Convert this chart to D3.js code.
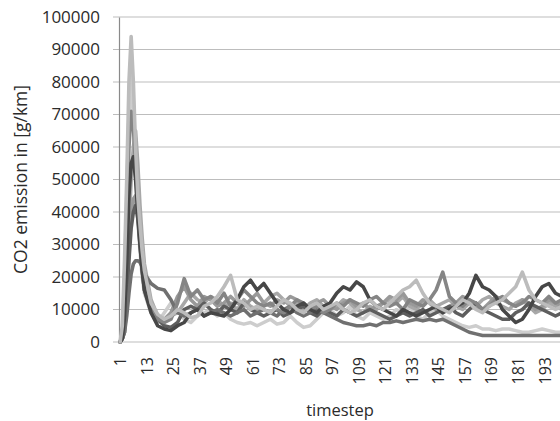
<!DOCTYPE html>
<html>
<head>
<meta charset="utf-8">
<script src="https://cdn.jsdelivr.net/npm/d3@7"></script>
<style>
  html, body { margin: 0; padding: 0; background: #fff; }
  svg { display: block; font-family: "Open Sans", sans-serif; }
</style>
</head>
<body>
<svg id="chart" width="560" height="421"></svg>
<script>
// Sampled timesteps (dense around the start-up peak, every third step afterwards)
const timesteps = [1, 2, 3, 4, 5, 6, 7, 8, 9, 10, 11, 12,
  15, 18, 21, 24, 27, 30, 33, 36, 39,
  42, 45, 48, 51, 54, 57, 60, 63, 66,
  69, 72, 75, 78, 81, 84, 87, 90, 93,
  96, 99, 102, 105, 108, 111, 114, 117, 120,
  123, 126, 129, 132, 135, 138, 141, 144, 147,
  150, 153, 156, 159, 162, 165, 168, 171, 174,
  177, 180, 183, 186, 189, 192, 195, 198, 201];

// CO2 emission per run, g/km
const runA = [0, 5000, 25000, 50000, 80000, 94000, 80000, 60000, 45000, 36000, 28000, 22000,
  12000, 8500, 7000, 8000, 10000, 9000, 7500, 8000, 11000,
  12000, 14000, 17000, 20500, 13000, 12000, 10000, 11000, 10000,
  9000, 11000, 13000, 12000, 10000, 9000, 11000, 12000, 10000,
  11000, 12000, 10000, 9000, 10000, 12000, 13000, 11000, 10000,
  12000, 14000, 16000, 17000, 19000, 15000, 12000, 11000, 10000,
  9000, 11000, 13000, 12000, 10000, 9000, 11000, 12000, 13000,
  15000, 17000, 21500, 16000, 13000, 12000, 11000, 10000, 11000];

const runB = [0, 2000, 12000, 35000, 60000, 71000, 66000, 55000, 42000, 32000, 24000, 18000,
  11000, 7000, 6000, 7000, 12000, 19500, 14000, 16000, 13000,
  14000, 12000, 15000, 11000, 13000, 16000, 14000, 12000, 11000,
  12000, 10000, 9000, 11000, 13000, 12000, 10000, 11000, 9000,
  10000, 12000, 11000, 13000, 12000, 11000, 13000, 14000, 12000,
  11000, 12000, 10000, 13000, 12000, 11000, 13000, 16000, 21500,
  14000, 12000, 11000, 13000, 12000, 10000, 11000, 13000, 14000,
  12000, 11000, 12000, 14000, 13000, 12000, 14000, 12000, 13000];

const runC = [0, 1000, 8000, 25000, 45000, 55000, 57000, 50000, 40000, 30000, 22000, 16000,
  9000, 5000, 4000, 3500, 5000, 6000, 9000, 10000, 8000,
  9000, 8500, 8000, 10000, 13000, 17000, 19000, 16000, 18000,
  15000, 12000, 10000, 9000, 11000, 12000, 10000, 9000, 11000,
  12000, 15000, 17000, 16000, 18500, 17000, 13000, 11000, 10000,
  9000, 8000, 10000, 9000, 8000, 9000, 10000, 11000, 9000,
  10000, 11000, 12000, 15000, 20500, 17000, 16000, 14000, 10000,
  8000, 6000, 7000, 10000, 14000, 17000, 18000, 15000, 14000];

const runD = [0, 1000, 5000, 15000, 35000, 50000, 60000, 65000, 55000, 42000, 32000, 24000,
  13000, 8000, 6000, 8000, 9000, 12000, 15000, 13000, 12000,
  14000, 13000, 11000, 12000, 10000, 13000, 11000, 10000, 12000,
  14000, 15000, 13000, 11000, 12000, 10000, 12000, 13000, 11000,
  10000, 11000, 13000, 12000, 10000, 9000, 11000, 10000, 12000,
  13000, 12000, 14000, 11000, 10000, 12000, 13000, 11000, 12000,
  13000, 11000, 10000, 12000, 11000, 13000, 14000, 12000, 11000,
  10000, 12000, 13000, 11000, 9000, 10000, 12000, 11000, 10000];

const runE = [0, 1000, 3000, 8000, 15000, 21000, 24000, 25000, 25000, 24500, 23000, 21000,
  18000, 16500, 16000, 13000, 9000, 8000, 9000, 10000, 8000,
  9000, 10000, 9000, 8000, 9000, 10000, 8000, 9000, 10000,
  9000, 8000, 10000, 11000, 9000, 8000, 9000, 10000, 9000,
  8000, 7000, 6000, 5500, 5000, 5000, 5500, 5000, 6000,
  6000, 6500, 6000, 6500, 7000, 6500, 7000, 6500, 7000,
  6000, 5000, 4000, 3000, 2500, 2000, 2000, 2000, 2000,
  2000, 2000, 2000, 2000, 2000, 2000, 2000, 2000, 2000];

const runF = [0, 3000, 20000, 45000, 70000, 82000, 70000, 52000, 38000, 28000, 20000, 15000,
  9000, 6000, 9000, 12000, 10000, 7000, 6000, 8000, 9000,
  10000, 8000, 9000, 7000, 6000, 5500, 6000, 5000, 6000,
  7000, 5500, 6000, 8000, 6000, 4500, 5000, 7000, 9000,
  10000, 8000, 9000, 11000, 8000, 7000, 9000, 8000, 7000,
  8000, 10000, 9000, 11000, 8000, 7000, 9000, 10000, 8000,
  7000, 6000, 5000, 4500, 5000, 4000, 4000, 3500, 4000,
  4000, 3500, 3000, 3000, 3500, 4000, 3500, 3000, 3000];

const runG = [0, 1000, 5000, 15000, 28000, 38000, 44000, 45000, 40000, 32000, 25000, 19000,
  12000, 8000, 7000, 9000, 14000, 17000, 13000, 11000, 14000,
  13000, 11000, 12000, 14000, 12000, 11000, 13000, 15000, 12000,
  11000, 13000, 12000, 14000, 13000, 11000, 10000, 12000, 13000,
  11000, 10000, 12000, 13000, 11000, 12000, 10000, 11000, 12000,
  14000, 13000, 15000, 12000, 11000, 13000, 12000, 10000, 9000,
  11000, 12000, 14000, 13000, 11000, 10000, 12000, 14000, 13000,
  12000, 11000, 13000, 12000, 10000, 11000, 13000, 12000, 11000];

const runH = [0, 1000, 3000, 12000, 25000, 35000, 40000, 42000, 38000, 30000, 22000, 16000,
  10000, 7000, 5000, 4500, 6000, 10000, 11000, 10000, 12000,
  10000, 9000, 11000, 10000, 9000, 12000, 10000, 9000, 8000,
  9000, 10000, 8000, 9000, 10000, 11000, 9000, 8000, 10000,
  9000, 8000, 10000, 9000, 8000, 9000, 10000, 9000, 8000,
  7000, 8000, 9000, 8000, 9000, 10000, 8000, 9000, 10000,
  11000, 9000, 8000, 10000, 12000, 10000, 9000, 8000, 7000,
  7000, 9000, 10000, 12000, 11000, 10000, 9000, 8000, 9000];

const runs = [runF, runD, runG, runH, runE, runB, runC, runA];
const runColors = ["#cdcdcd", "#a8a8a8", "#999999", "#5e5e5e", "#707070", "#858585", "#474747", "#bcbcbc"];

const yTicks = [0, 10000, 20000, 30000, 40000, 50000, 60000, 70000, 80000, 90000, 100000];
const xTicks = [1, 13, 25, 37, 49, 61, 73, 85, 97, 109, 121, 133, 145, 157, 169, 181, 193];

const svg = d3.select("#chart");
const plotLeft = 119, plotTop = 17, plotBottom = 342, stepPx = 2.21;

const x = d3.scaleLinear().domain([0.5, 200.5]).range([plotLeft, plotLeft + 200 * stepPx]);
const y = d3.scaleLinear().domain([0, 100000]).range([plotBottom, plotTop]);

// horizontal gridlines
svg.append("g")
  .selectAll("line")
  .data(yTicks)
  .join("line")
  .attr("x1", plotLeft - 6).attr("x2", 560)
  .attr("y1", d => y(d)).attr("y2", d => y(d))
  .attr("stroke", "#bdbdbd").attr("stroke-width", 1.2);

// y axis
const yAxis = svg.append("g")
  .attr("transform", `translate(${plotLeft},0)`)
  .call(d3.axisLeft(y).tickValues(yTicks).tickSize(0).tickPadding(19).tickFormat(d3.format("d")));
yAxis.select(".domain").attr("stroke", "#8a8a8a").attr("stroke-width", 1.2);
yAxis.selectAll("text").attr("font-size", 17).attr("fill", "#2b2b2b")
  .attr("font-family", "'Open Sans', sans-serif");

// x axis labels
const xAxis = svg.append("g")
  .attr("transform", `translate(0,${plotBottom})`)
  .call(d3.axisBottom(x).tickValues(xTicks).tickSize(0).tickFormat(d3.format("d")));
xAxis.select(".domain").remove();
xAxis.selectAll("text")
  .attr("font-size", 16).attr("fill", "#2b2b2b")
  .attr("font-family", "'Open Sans', sans-serif")
  .attr("text-anchor", "end")
  .attr("transform", "rotate(-90)")
  .attr("x", -15).attr("y", 0).attr("dy", "0.35em");

// emission lines
const line = d3.line()
  .x((d, i) => x(timesteps[i]))
  .y(d => y(d));

svg.append("g")
  .selectAll("path")
  .data(runs)
  .join("path")
  .attr("d", d => line(d))
  .attr("fill", "none")
  .attr("stroke", (d, i) => runColors[i])
  .attr("stroke-width", 3.6)
  .attr("stroke-linejoin", "round")
  .attr("stroke-linecap", "round");

// axis titles
svg.append("text")
  .attr("transform", `translate(21,${(plotTop + plotBottom) / 2}) rotate(-90)`)
  .attr("text-anchor", "middle")
  .attr("dy", "0.35em")
  .attr("font-size", 17.5)
  .attr("fill", "#2b2b2b")
  .text("CO2 emission in [g/km]");

svg.append("text")
  .attr("x", 340).attr("y", 410)
  .attr("text-anchor", "middle")
  .attr("dy", "0.35em")
  .attr("font-size", 16.5)
  .attr("fill", "#2b2b2b")
  .text("timestep");
</script>
</body>
</html>
